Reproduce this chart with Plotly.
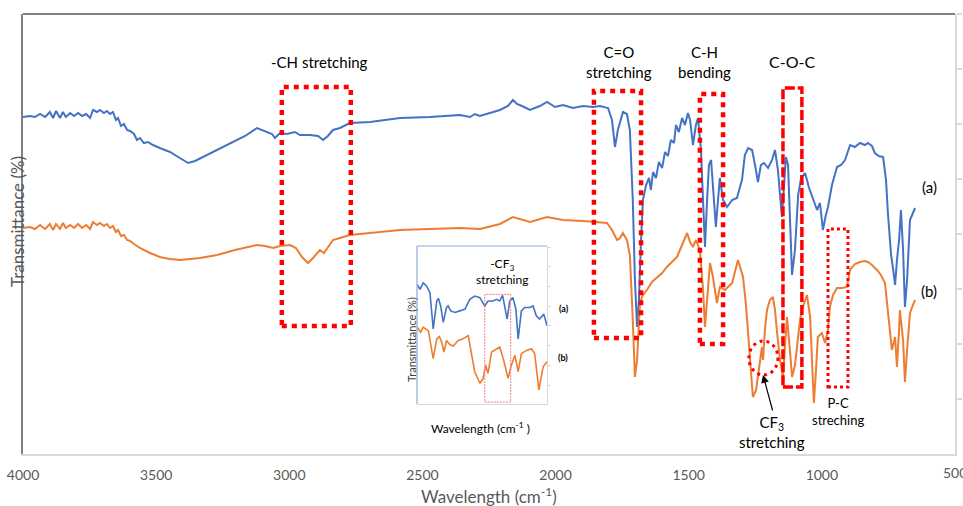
import plotly.graph_objects as go

# ---------------- main spectra (wavenumber cm-1, transmittance a.u.) ----------------
wn_a = [4000, 3974, 3955, 3936, 3917, 3899, 3887, 3876, 3861, 3850, 3839, 3823, 3808, 3793, 3778,
        3763, 3748, 3737, 3722, 3711, 3696, 3685, 3673, 3662, 3651, 3643, 3632, 3621, 3609, 3598,
        3583, 3572, 3561, 3546, 3531, 3512, 3486, 3448, 3411, 3380, 3354, 3317, 3271, 3223, 3166,
        3121, 3091, 3065, 3054, 3035, 3009, 2979, 2960, 2922, 2892, 2873, 2855, 2836, 2810, 2772,
        2697, 2584, 2472, 2359, 2321, 2303, 2284, 2246, 2209, 2179, 2160, 2145, 2126, 2096, 2059,
        2032, 2002, 1972, 1935, 1897, 1859, 1833, 1803, 1788, 1777, 1766, 1747, 1732, 1721, 1710,
        1702, 1694, 1687, 1679, 1672, 1660, 1649, 1642, 1634, 1623, 1612, 1600, 1589, 1578, 1567,
        1555, 1548, 1537, 1525, 1514, 1503, 1495, 1484, 1473, 1465, 1454, 1446, 1439, 1431, 1424,
        1416, 1409, 1398, 1390, 1383, 1371, 1356, 1337, 1319, 1300, 1289, 1277, 1262, 1251, 1240,
        1229, 1217, 1202, 1187, 1176, 1165, 1150, 1142, 1135, 1127, 1120, 1112, 1101, 1089, 1078,
        1063, 1048, 1033, 1018, 1007, 996, 985, 977, 962, 943, 928, 913, 894, 876, 857,
        838, 827, 812, 801, 786, 770, 759, 752, 740, 733, 725, 718, 710, 703, 695,
        688, 680, 669, 658, 650]
tr_a = [337, 338, 337, 340, 337, 342, 336, 343, 336, 342, 337, 341, 338, 341, 338,
        340, 336, 344, 342, 344, 341, 343, 340, 342, 334, 336, 328, 330, 324, 323,
        320, 314, 316, 311, 312, 309, 306, 302, 296, 291, 293, 298, 304, 311, 318,
        326, 323, 320, 316, 321, 320, 322, 319, 319, 318, 314, 318, 324, 326, 331,
        332, 336, 337, 339, 337, 340, 338, 341, 344, 348, 354, 350, 348, 344, 348,
        352, 347, 349, 346, 348, 347, 348, 346, 334, 307, 324, 342, 340, 324, 254,
        174, 127, 154, 214, 254, 269, 276, 264, 282, 276, 292, 286, 302, 298, 314,
        311, 329, 322, 336, 329, 341, 334, 309, 329, 336, 304, 254, 207, 254, 289,
        294, 267, 227, 254, 276, 254, 247, 254, 256, 274, 299, 306, 304, 289, 272,
        289, 291, 286, 294, 304, 284, 237, 274, 297, 289, 234, 179, 204, 259, 276,
        281, 266, 254, 244, 251, 224, 239, 247, 269, 287, 289, 294, 309, 307, 311,
        309, 311, 308, 301, 298, 297, 274, 241, 199, 186, 169, 194, 214, 244, 204,
        147, 174, 234, 242, 246]

wn_b = [4000, 3974, 3955, 3936, 3917, 3899, 3887, 3876, 3861, 3850, 3839, 3823, 3808, 3793, 3778,
        3763, 3748, 3737, 3722, 3711, 3696, 3685, 3673, 3662, 3651, 3643, 3632, 3621, 3609, 3598,
        3583, 3561, 3523, 3486, 3448, 3411, 3373, 3335, 3271, 3204, 3121, 3091, 3061, 3035, 2997,
        2975, 2952, 2930, 2911, 2892, 2885, 2870, 2855, 2836, 2810, 2772, 2697, 2584, 2472, 2359,
        2284, 2209, 2160, 2126, 2096, 2032, 1972, 1897, 1807, 1788, 1769, 1758, 1747, 1732, 1721,
        1710, 1702, 1694, 1683, 1672, 1657, 1638, 1619, 1600, 1582, 1563, 1544, 1525, 1506, 1495,
        1484, 1473, 1458, 1446, 1439, 1431, 1420, 1409, 1394, 1383, 1364, 1337, 1326, 1315, 1296,
        1285, 1277, 1266, 1259, 1247, 1240, 1232, 1225, 1221, 1214, 1206, 1195, 1184, 1176, 1168,
        1157, 1146, 1138, 1131, 1120, 1112, 1101, 1093, 1082, 1075, 1056, 1044, 1037, 1030, 1022,
        1015, 1000, 988, 977, 970, 958, 943, 924, 906, 894, 876, 857, 838, 827, 812,
        793, 778, 763, 752, 737, 725, 718, 710, 707, 695, 688, 680, 669, 658, 650]
tr_b = [226, 227, 225, 229, 225, 230, 224, 230, 225, 231, 226, 229, 226, 230, 226,
        229, 225, 232, 229, 231, 228, 230, 226, 228, 222, 224, 218, 219, 214, 213,
        210, 206, 201, 197, 195, 194, 195, 196, 199, 204, 209, 208, 206, 208, 209,
        206, 197, 191, 196, 202, 204, 201, 207, 214, 216, 219, 221, 224, 225, 226,
        225, 230, 237, 234, 232, 237, 234, 233, 231, 224, 214, 216, 221, 214, 199,
        134, 77, 94, 151, 159, 164, 172, 177, 181, 187, 192, 197, 209, 221, 212,
        207, 214, 204, 164, 127, 154, 191, 177, 151, 167, 164, 171, 182, 194, 177,
        149, 121, 79, 57, 64, 77, 94, 107, 94, 124, 144, 154, 157, 144, 121,
        94, 77, 109, 137, 104, 77, 89, 111, 134, 144, 159, 137, 94, 51, 84,
        117, 121, 111, 124, 147, 159, 166, 166, 167, 184, 190, 192, 193, 192, 189,
        184, 179, 171, 144, 104, 117, 87, 124, 144, 114, 72, 104, 141, 149, 154]

# ---------------- inset spectra (CF3 region, a.u.) ----------------
wn_ia = [1399, 1391, 1381, 1370, 1360, 1350, 1339, 1334, 1327, 1319, 1309, 1304, 1296, 1283, 1268,
         1252, 1237, 1222, 1206, 1191, 1181, 1165, 1155, 1145, 1136, 1129, 1122, 1114, 1104, 1095,
         1088, 1078, 1068, 1052, 1042, 1032, 1022, 1009, 999]
tr_ia = [121, 116, 122.7, 119.3, 112.7, 76, 104.3, 107, 99.3, 82.7, 97.7, 99.3, 94.3, 92.7, 94.3,
         96, 106, 109.3, 107.7, 99.3, 104.3, 104.3, 106, 104.3, 110, 99.3, 86, 104.3, 107.7, 96,
         66, 94.3, 97.7, 97.7, 99.3, 89.3, 86, 91, 79.3]
wn_ib = [1399, 1389, 1381, 1365, 1350, 1339, 1331, 1324, 1317, 1309, 1298, 1288, 1273, 1258, 1242,
         1232, 1222, 1206, 1196, 1188, 1181, 1170, 1155, 1145, 1134, 1119, 1109, 1098, 1088, 1078,
         1062, 1047, 1037, 1024, 1011, 999]
tr_ib = [77.7, 72.7, 77.7, 74.3, 46, 66, 68.3, 62.7, 52.7, 64.3, 60, 58.7, 64.3, 66, 69.3,
         52.7, 32.7, 21, 26, 39.3, 31, 52.7, 56, 57.7, 46, 26, 39.3, 49.3, 32.7, 51,
         54.3, 56, 51, 14.3, 37.7, 42.7]

x_ticks = [4000, 3500, 3000, 2500, 2000, 1500, 1000, 500]
x_tick_labels = ["4000", "3500", "3000", "2500", "2000", "1500", "1000", "500"]

BLUE = "#4472c4"
ORANGE = "#ed7d31"
RED = "#ff0000"
FONT = "Lato"

# pixel geometry of the main plot area
L, R, T, B = 23, 955, 14, 454
W, H = 963, 506


def px(x):
    return (x - L) / (R - L)


def py(y):
    return (B - y) / (B - T)


fig = go.Figure()
fig.add_trace(go.Scatter(x=wn_a, y=tr_a, mode="lines", line=dict(color=BLUE, width=2),
                         xaxis="x", yaxis="y", showlegend=False, hoverinfo="skip"))
fig.add_trace(go.Scatter(x=wn_b, y=tr_b, mode="lines", line=dict(color=ORANGE, width=2),
                         xaxis="x", yaxis="y", showlegend=False, hoverinfo="skip"))
fig.add_trace(go.Scatter(x=wn_ia, y=tr_ia, mode="lines", line=dict(color=BLUE, width=1.6),
                         xaxis="x2", yaxis="y2", showlegend=False, hoverinfo="skip"))
fig.add_trace(go.Scatter(x=wn_ib, y=tr_ib, mode="lines", line=dict(color=ORANGE, width=1.6),
                         xaxis="x2", yaxis="y2", showlegend=False, hoverinfo="skip"))
fig.add_trace(go.Scatter(x=[None], y=[None], xaxis="x", yaxis="y3", showlegend=False))

inset_x = [px(417), px(547)]
inset_y = [py(404), py(246)]

fig.update_layout(
    width=W, height=H,
    margin=dict(l=L, r=W - R, t=T, b=H - B, autoexpand=False),
    paper_bgcolor="white", plot_bgcolor="white",
    font=dict(family=FONT, color="#000000"),
    xaxis=dict(range=[4000, 500], tickvals=x_ticks[:-1], ticktext=x_tick_labels[:-1],
               automargin=False,
               showgrid=False, zeroline=False, showline=True, linecolor="#d9d9d9", linewidth=2,
               ticks="outside", ticklen=7, tickcolor="rgba(0,0,0,0)",
               tickfont=dict(family=FONT, size=14, color="#595959")),
    yaxis=dict(range=[0, 440], showgrid=False, zeroline=False, showticklabels=False, automargin=False,
               showline=True, linecolor="#7f7f7f", linewidth=2, ticks=""),
    yaxis3=dict(range=[0, 440], overlaying="y", side="right", showgrid=False, zeroline=False,
                showticklabels=False, showline=True, linecolor="#d9d9d9", linewidth=1.5,
                automargin=False, ticks="outside", ticklen=5, tickcolor="#d9d9d9", tickwidth=1.5,
                tickvals=[55, 110, 165, 220, 275, 330, 385, 440]),
    xaxis2=dict(domain=inset_x, anchor="y2", range=[1400, 999], showgrid=False, zeroline=False,
                automargin=False, showticklabels=False, showline=True, linecolor="#d9d9d9",
                linewidth=1, ticks=""),
    yaxis2=dict(domain=inset_y, anchor="x2", range=[0, 160], side="right", showgrid=False,
                automargin=False, zeroline=False, showticklabels=False, showline=True,
                linecolor="#d9d9d9", linewidth=1, ticks="outside", ticklen=3, tickcolor="#d9d9d9",
                tickvals=[19, 39, 59, 79, 99, 119, 139, 158]),
)

shapes = []
# top border of main plot
shapes.append(dict(type="line", xref="paper", yref="paper", x0=0, x1=1, y0=1, y1=1,
                   line=dict(color="#7f7f7f", width=2)))
# inset background and blue left/top borders
shapes.append(dict(type="rect", xref="paper", yref="paper", x0=inset_x[0], x1=inset_x[1],
                   y0=inset_y[0], y1=inset_y[1], fillcolor="white", line=dict(width=0), layer="below"))
shapes.append(dict(type="line", xref="paper", yref="paper", x0=inset_x[0], x1=inset_x[0],
                   y0=inset_y[0], y1=inset_y[1], line=dict(color="#8eaadb", width=1.2)))
shapes.append(dict(type="line", xref="paper", yref="paper", x0=inset_x[0], x1=inset_x[1],
                   y0=inset_y[1], y1=inset_y[1], line=dict(color="#8eaadb", width=1.2)))

# red highlight boxes (data coords)
boxes = [
    (3028, 2769, 128, 367, 4.5, "5px,5px"),   # -CH
    (1856, 1679, 116, 363, 4.5, "5px,5px"),   # C=O
    (1458, 1371, 110, 360, 4.5, "5px,5px"),   # C-H
    (1146, 1075, 67, 366, 3.5, "10px,3px"),   # C-O-C
    (977, 902, 67, 225, 3, "3px,3px"),        # P-C
]
for x0, x1, y0, y1, w, d in boxes:
    shapes.append(dict(type="rect", xref="x", yref="y", x0=x0, x1=x1, y0=y0, y1=y1,
                       line=dict(color=RED, width=w, dash=d)))
# CF3 circle
shapes.append(dict(type="circle", xref="x", yref="y", x0=1274, x1=1165, y0=79, y1=113,
                   line=dict(color=RED, width=3, dash="3px,4px")))
# inset highlight box
shapes.append(dict(type="rect", xref="x2", yref="y2", x0=1191, x1=1111, y0=2, y1=111,
                   line=dict(color="#f08080", width=1, dash="2px,1px")))
fig.update_layout(shapes=shapes)

ann = []


def text(x, y, s, size=15, color="#000000", **kw):
    ann.append(dict(x=px(x), y=py(y), xref="paper", yref="paper", text=s, showarrow=False,
                    font=dict(family=FONT, size=size, color=color), xanchor="center",
                    yanchor="middle", **kw))


text(319, 62, "-CH stretching")
text(619, 62, "C=O<br>stretching")
text(704, 62, "C-H<br>bending")
text(792, 61, "C-O-C", size=16)
text(929, 187, "(a)")
text(929, 291, "(b)")
text(772, 432, "CF<sub>3</sub><br>stretching")
text(838, 411, "P-C<br>streching", size=13)
text(489, 495, "Wavelength (cm<sup>-1</sup>)", size=17, color="#595959")
text(17, 222, "Transmittance (%)", size=17, color="#595959", textangle=-90)
# last tick label, cut by the page edge as in the original
ann.append(dict(x=x_ticks[-1], y=0, xref="x", yref="y", text=x_tick_labels[-1], showarrow=False,
                font=dict(family=FONT, size=14, color="#595959"), xanchor="center",
                yanchor="top", yshift=-8))
# inset texts
text(502, 271, "-CF<sub>3</sub><br>stretching", size=12)
text(564, 308, "<b>(a)</b>", size=9)
text(563, 357, "<b>(b)</b>", size=9)
text(411, 340, "Transmittance (%)", size=11, color="#404040", textangle=-90)
text(480, 428, "Wavelength (cm<sup>-1</sup> )", size=12)

# arrow pointing at the CF3 circle
ann.append(dict(x=1221, y=79, xref="x", yref="y", ax=10, ay=37,
                showarrow=True, arrowhead=2, arrowsize=1.3, arrowwidth=1.2, arrowcolor="#000000",
                text=""))
fig.update_layout(annotations=ann)

fig.write_html("out.html")
